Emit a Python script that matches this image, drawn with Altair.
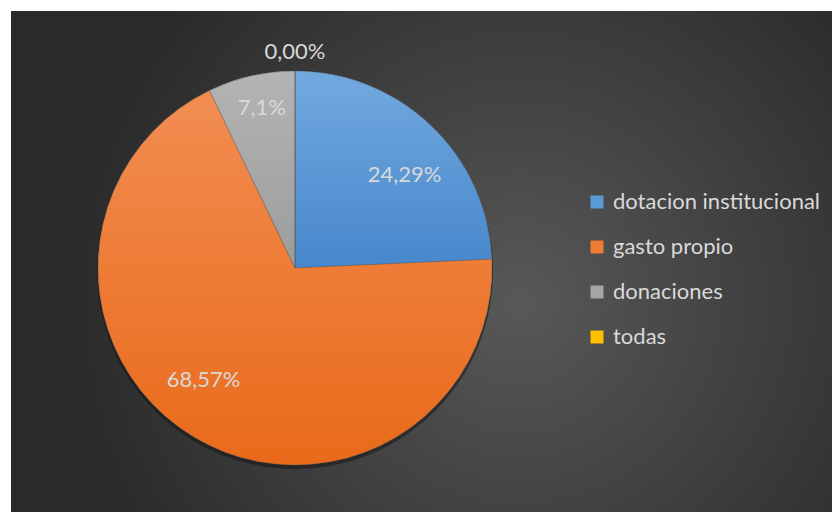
import altair as alt
import pandas as pd

categories = ["dotacion institucional", "gasto propio", "donaciones", "todas"]
values = [24.29, 68.57, 7.14, 0.0]
labels = ["24,29%", "68,57%", "7,1%", "0,00%"]
legend_colors = ["#5b9bd5", "#ed7d31", "#a5a5a5", "#ffc000"]
grad_top = ["#72a9df", "#f28d52", "#b4b4b4", "#ffcd33"]
grad_bottom = ["#4787cc", "#e96a19", "#9c9c9c", "#f2b600"]

df = pd.DataFrame({"cat": categories, "value": values, "label": labels,
                   "order": list(range(len(categories)))})

W, H = 824, 504
CX, CY, R = 287, 260, 197
FONT = "Lato"
TXT = "#d9d9d9"

theta_scale = alt.Scale(domain=[0, 100], range=[0, 6.283185307])

bg = alt.Chart(pd.DataFrame({"a": [0]})).mark_rect(
    fill={"gradient": "radial", "x1": 0.62, "y1": 0.55, "x2": 0.62, "y2": 0.55,
          "r1": 0, "r2": 0.55,
          "stops": [{"offset": 0, "color": "#585858"}, {"offset": 1, "color": "#2a2a2a"}]}
).encode(x=alt.value(3), x2=alt.value(W), y=alt.value(3), y2=alt.value(H))

shadow = alt.Chart(pd.DataFrame({"a": [0]})).mark_arc(
    theta=0, theta2=6.283185307, radius=R + 1, fill="#151515", opacity=0.55
).encode(x=alt.value(CX), y=alt.value(CY + 3))

stacked = alt.Chart(df).transform_stack(
    stack="value", groupby=[], as_=["v0", "v1"], sort=[alt.SortField("order")]
).transform_calculate(mid="(datum.v0 + datum.v1) / 2")

base_pie = stacked.mark_arc(radius=R).encode(
    theta=alt.Theta("v0:Q", scale=theta_scale),
    theta2="v1:Q",
    x=alt.value(CX), y=alt.value(CY),
    color=alt.Color("cat:N", sort=categories,
                    scale=alt.Scale(domain=categories, range=legend_colors),
                    legend=alt.Legend(title=None, orient="none", legendX=578, legendY=183,
                                      symbolType="square", symbolSize=169,
                                      symbolStrokeWidth=0, labelFont=FONT,
                                      labelFontSize=22, labelColor=TXT,
                                      labelOffset=5, rowPadding=23, padding=0,
                                      labelLimit=400)),
)

layers = [bg, shadow, base_pie]
for i, c in enumerate(categories):
    layers.append(
        stacked.transform_filter(alt.datum.cat == c).mark_arc(
            radius=R, stroke="#5a5a5a", strokeWidth=0.4,
            fill={"gradient": "linear", "x1": 0, "y1": 0, "x2": 0, "y2": 1,
                  "stops": [{"offset": 0, "color": grad_top[i]},
                            {"offset": 1, "color": grad_bottom[i]}]}
        ).encode(
            theta=alt.Theta("v0:Q", scale=theta_scale), theta2="v1:Q",
            x=alt.value(CX), y=alt.value(CY),
        )
    )

label_pos = [(144, 10, 11), (145, -17, -12), (163, 3, -1), (216, 0, 0)]
for i, c in enumerate(categories):
    r, dx, dy = label_pos[i]
    layers.append(
        stacked.transform_filter(alt.datum.cat == c).mark_text(
            radius=r, dx=dx, dy=dy, font=FONT, fontSize=22, color=TXT,
            align="center", baseline="middle"
        ).encode(
            theta=alt.Theta("mid:Q", scale=theta_scale),
            x=alt.value(CX), y=alt.value(CY),
            text="label:N",
        )
    )

chart = alt.layer(*layers).properties(
    width=W, height=H, padding=0, autosize="none"
).configure(background="white").configure_view(stroke=None)

chart.save("out.html", embed_options={"renderer": "svg", "actions": False})
